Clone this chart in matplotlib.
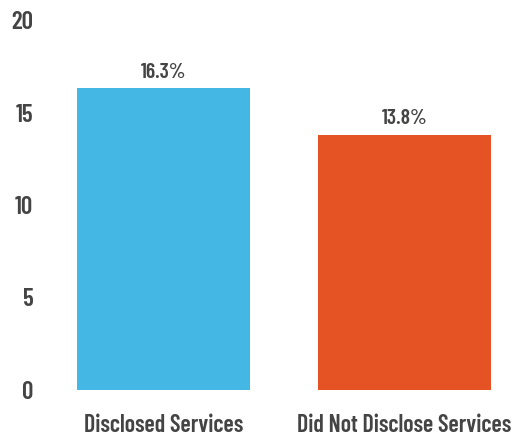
import matplotlib as mpl
mpl.use('agg')
import matplotlib.pyplot as plt

categories = ['Disclosed Services', 'Did Not Disclose Services']
values = [16.3, 13.8]
value_labels = ['16.3%', '13.8%']
colors = ['#45B7E5', '#E55325']
yticks = [0, 5, 10, 15, 20]

plt.rcParams['font.family'] = ['Barlow Condensed', 'DejaVu Sans']
text_color = '#444444'

fig = plt.figure(figsize=(5.15, 4.4), dpi=100)
ax = fig.add_axes([50/515, 50/440, 460/515, 370/440])

x = range(len(categories))
bars = ax.bar(x, values, width=0.72, color=colors)

# value labels just above each bar
for b, lab in zip(bars, value_labels):
	ax.text(b.get_x() + b.get_width()/2, b.get_height() + 0.35, lab,
		ha='center', va='bottom', fontsize=15.5, fontweight=600, color=text_color)

ax.set_xlim(-0.471, 1.438)
ax.set_ylim(0, 20)
ax.set_yticks(yticks)
ax.set_yticklabels([str(t) for t in yticks], fontsize=18, fontweight=600, color=text_color)
ax.set_xticks(list(x))
ax.set_xticklabels(categories, fontsize=17.3, fontweight=600, color=text_color)
ax.tick_params(length=0)
ax.tick_params(axis='y', pad=12)
ax.tick_params(axis='x', pad=17)
for s in ax.spines.values():
	s.set_visible(False)

plt.savefig('out.png')
